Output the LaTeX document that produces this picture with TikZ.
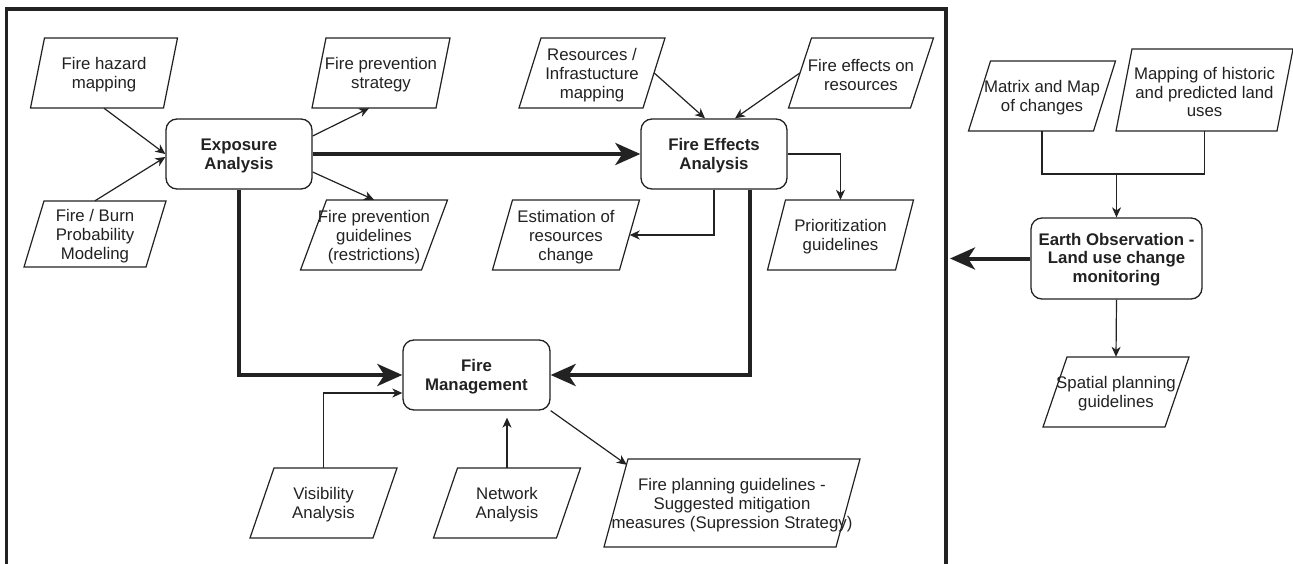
\documentclass[tikz,border=0pt]{standalone}
\usepackage{fontspec}
\setmainfont{Liberation Sans}
\usetikzlibrary{arrows.meta,calc}
\definecolor{ink}{HTML}{222222}
\tikzset{
  txt/.style={font=\fontsize{16.8}{18.8}\selectfont, align=center, inner sep=0pt, text=ink},
  btxt/.style={txt, font=\fontsize{16.8}{18.8}\selectfont\bfseries},
  pshape/.style={inner sep=0pt},
  pline/.style={draw=ink, line width=1.2pt, line join=miter},
  rbox/.style={draw=ink, line width=1.3pt, rounded corners=11pt, inner sep=0pt},
  conn/.style={draw=ink, line width=1.2pt, -{Stealth[length=10pt,width=9pt,inset=3pt]}},
  plain/.style={draw=ink, line width=1.2pt},
  heavy/.style={draw=ink, line width=4pt, -{Stealth[length=25pt,width=22pt,inset=7pt]}},
  heavyline/.style={draw=ink, line width=4pt},
  frame/.style={draw=ink, line width=3.5pt}
}
\newcommand\parabox[7]{%
  \draw[pline] (#2,#3) ++({-#4/2+#6/2},{-#5/2}) -- ++(#4,0) -- ++(-#6,#5) -- ++(-#4,0) -- cycle;
  \node[pshape, minimum width=#4pt, minimum height=#5pt] (#1) at (#2,#3) {};
  \node[txt, yshift=-2pt] (#1-t) at (#2,#3) {#7};
}
\begin{document}
\begin{tikzpicture}[x=1pt,y=-1pt]
\useasboundingbox (0,0) rectangle (1293,564);
\fill[white] (0,0) rectangle (1293,564);
% outer frame
\draw[frame] (6.5,9) rectangle (946,600);

% rounded process boxes
\node[rbox, minimum width=146pt, minimum height=70pt] (exp) at (239,154) {};
\node[btxt, yshift=-2pt] (exp-t) at (exp.center) {Exposure\\Analysis};
\node[rbox, minimum width=146pt, minimum height=70pt] (fea) at (714,154) {};
\node[btxt, yshift=-2pt] (fea-t) at (fea.center) {Fire Effects\\Analysis};
\node[rbox, minimum width=147pt, minimum height=70pt] (fm) at (476.5,375) {};
\node[btxt, yshift=-2pt] (fm-t) at (fm.center) {Fire\\Management};
\node[rbox, minimum width=171pt, minimum height=81pt] (eo) at (1116.5,258.5) {};
\node[btxt, yshift=-1pt] (eo-t) at (eo.center) {Earth Observation -\\Land use change\\monitoring};

% data parallelograms: name, x, y, width, height, slant, text
\parabox{fh}{104}{73}{133}{70}{14}{Fire hazard\\mapping}
\parabox{fb}{95}{234}{122}{66}{20}{Fire / Burn\\Probability\\Modeling}
\parabox{fps}{381}{73}{124}{70}{14}{Fire prevention\\strategy}
\parabox{fpg}{374}{235}{121}{70}{26}{Fire prevention\\guidelines\\(restrictions)}
\parabox{res}{592}{73}{124}{70}{22}{Resources /\\Infrastucture\\mapping}
\parabox{feo}{861}{73}{122}{70}{23}{Fire effects on\\resources}
\parabox{est}{566}{235}{127}{70}{20}{Estimation of\\resources\\change}
\parabox{pri}{840.5}{235}{128}{70}{18}{Prioritization\\guidelines}
\parabox{vis}{323.5}{503}{123}{70}{24}{Visibility\\Analysis}
\parabox{net}{507}{503}{123}{70}{24}{Network\\Analysis}
\parabox{fpl}{732}{503}{232}{88}{24}{Fire planning guidelines -\\Suggested mitigation\\measures (Supression Strategy)}
\parabox{mat}{1042}{96}{125}{70}{22}{Matrix and Map\\of changes}
\parabox{map}{1204.5}{90}{161}{82}{16}{Mapping of historic\\and predicted land\\uses}
\parabox{spa}{1116}{392}{122}{70}{24}{Spatial planning\\guidelines}

% connectors around Exposure Analysis
\draw[conn] (fh.south) -- (exp.west);
\draw[conn] (fb.north) -- ([yshift=-3pt]exp.west);
\draw[conn] ([yshift=18pt]exp.east) -- ([xshift=-12pt]fps.south);
\draw[conn] ([yshift=-18pt]exp.east) -- (fpg.north);
\draw[heavy] (exp.east) -- (fea.west);
\draw[heavy] (exp.south) |- (fm.west);

% connectors around Fire Effects Analysis
\draw[conn] (res.east) -- ([xshift=-9pt]fea.north);
\draw[conn] (feo.west) -- ([xshift=21pt]fea.north);
\draw[conn] (fea.east) -| (pri.north);
\draw[conn] (fea.south) |- (est.east);
\draw[heavy] ([xshift=36pt]fea.south) |- (fm.east);

% connectors around Fire Management
\draw[conn] (vis.north) |- ([yshift=-18pt]fm.west);
\draw[conn, shorten >=7pt] (net.north) -- (net.north |- fm.south);
\draw[conn] (fm.south east) -- ([xshift=11pt,yshift=-6pt]fpl.north west);

% Earth observation part
\coordinate (join) at (1116.5,174);
\coordinate (eoarr) at (950,258.5);
\draw[plain] (mat.south) |- (join) -| (map.south);
\draw[conn] (join) -- (eo.north);
\draw[conn] (eo.south) -- (spa.north);
\draw[heavy] (eo.west) -- (eoarr);
\end{tikzpicture}
\end{document}
